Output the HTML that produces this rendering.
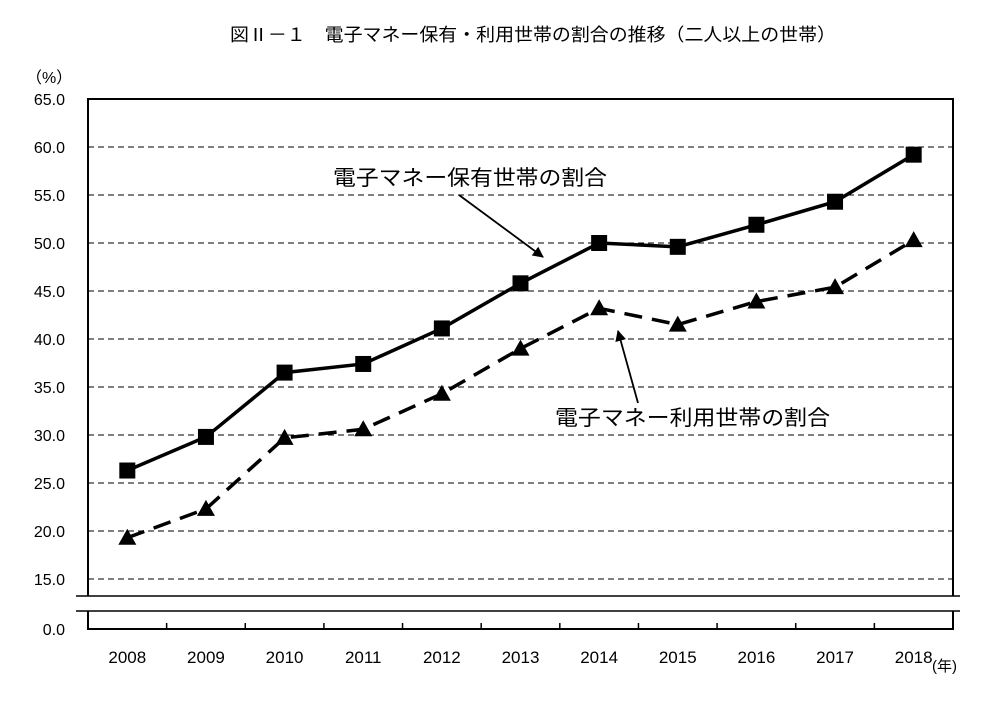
<!DOCTYPE html>
<html><head><meta charset="utf-8"><style>
body{margin:0;background:#fff;}
svg text{font-family:"Liberation Sans","Noto Sans CJK JP",sans-serif;fill:#000;}
</style></head><body>
<svg width="997" height="696" xmlns="http://www.w3.org/2000/svg">
<defs><marker id="ah" markerWidth="11" markerHeight="11" refX="10" refY="5.5" orient="auto" markerUnits="userSpaceOnUse"><path d="M0,0 L11,5.5 L0,11 z" fill="#000"/></marker></defs>
<text x="230" y="41" font-size="18" textLength="606" lengthAdjust="spacingAndGlyphs">図Ⅱ－１　電子マネー保有・利用世帯の割合の推移（二人以上の世帯）</text>
<text x="26" y="83" font-size="16">（%）</text>
<g id="grid"></g>
<g id="axes"></g>
<g id="series"></g>
<text x="333" y="185" font-size="21" textLength="274" lengthAdjust="spacingAndGlyphs">電子マネー保有世帯の割合</text>
<line x1="459" y1="195" x2="543" y2="257" stroke="#000" stroke-width="1.8" marker-end="url(#ah)"/>
<text x="555" y="425" font-size="21" textLength="275" lengthAdjust="spacingAndGlyphs">電子マネー利用世帯の割合</text>
<line x1="638" y1="403" x2="618" y2="331" stroke="#000" stroke-width="1.8" marker-end="url(#ah)"/>
</svg>
<script>
const years=["2008","2009","2010","2011","2012","2013","2014","2015","2016","2017","2018"];
const owned=[26.3,29.8,36.5,37.4,41.1,45.8,50.0,49.6,51.9,54.3,59.2];
const used=[19.3,22.3,29.7,30.6,34.3,39.0,43.2,41.5,43.9,45.4,50.3];
const yTicks=[15,20,25,30,35,40,45,50,55,60,65];
const NS="http://www.w3.org/2000/svg";
const L=88,R=953,B=629;
const y=v=>99+(65-v)*9.6;
const bw=(R-L)/years.length;
const x=i=>L+bw*(i+0.5);
function mk(tag,attrs,parent){const e=document.createElementNS(NS,tag);for(const k in attrs)e.setAttribute(k,attrs[k]);document.getElementById(parent).appendChild(e);return e;}
yTicks.forEach(v=>{
 if(v<65){const g=mk('line',{x1:L,x2:R,y1:y(v),y2:y(v),stroke:'#000','stroke-width':1,'stroke-dasharray':'6,4'},'grid');
 
 }
 const t=mk('text',{x:L-23,y:y(v)+6,'font-size':16,'text-anchor':'end'},'grid');t.textContent=v.toFixed(1);
 
 
});
const z=mk('text',{x:L-23,y:B+6,'font-size':16,'text-anchor':'end'},'grid');z.textContent='0.0';


const fr=mk('rect',{x:L,y:99,width:R-L,height:B-99,fill:'none',stroke:'#000','stroke-width':2},'axes');


const br=mk('rect',{x:76,y:596,width:884,height:15,fill:'#fff',stroke:'none'},'axes');


[596,611].forEach(yy=>{const l=mk('line',{x1:76,x2:960,y1:yy,y2:yy,stroke:'#000','stroke-width':1.5},'axes');

});
years.forEach((yr,i)=>{
 if(i>0){const tk=mk('line',{x1:L+bw*i,x2:L+bw*i,y1:B,y2:B-6,stroke:'#000','stroke-width':1.5},'axes');
 
 }
 const t=mk('text',{x:x(i),y:B+34,'font-size':17,'text-anchor':'middle'},'axes');t.textContent=yr;
 
 
});
const u=mk('text',{x:932,y:B+42,'font-size':15},'axes');u.textContent='(年)';


const p1=mk('polyline',{points:owned.map((v,i)=>x(i)+','+y(v)).join(' '),fill:'none',stroke:'#000','stroke-width':3.5},'series');


const p2=mk('polyline',{points:used.map((v,i)=>x(i)+','+y(v)).join(' '),fill:'none',stroke:'#000','stroke-width':3.5,'stroke-dasharray':'18,10'},'series');


owned.forEach((v,i)=>{const m=mk('rect',{x:x(i)-8,y:y(v)-8,width:16,height:16,fill:'#000'},'series');

});
used.forEach((v,i)=>{const cx=x(i),cy=y(v);const m=mk('polygon',{points:`${cx},${cy-9} ${cx-9},${cy+7} ${cx+9},${cy+7}`,fill:'#000'},'series');

});
</script>
</body></html>
